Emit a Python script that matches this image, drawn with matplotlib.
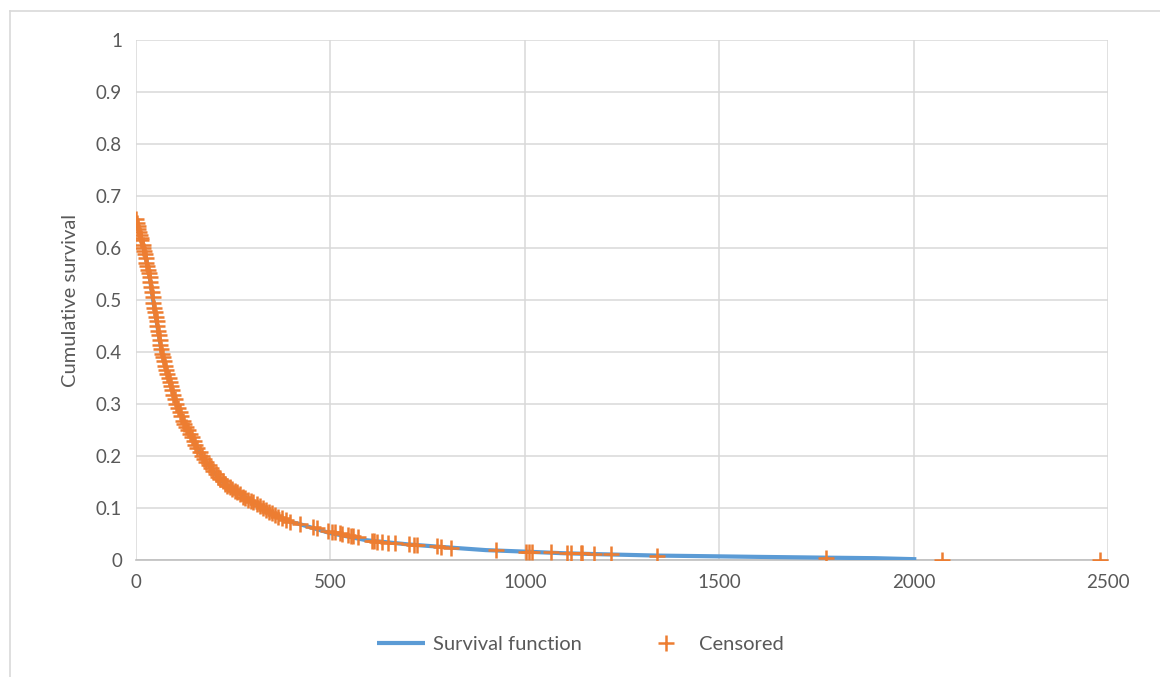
import matplotlib.pyplot as plt
from matplotlib.lines import Line2D

# Survival function
surv_t = [0, 5, 10, 16, 23, 34, 44, 55, 66, 84, 104, 133, 169, 215, 260, 301, 350, 395,
          421, 498, 593, 700, 806, 900, 1004, 1100, 1200, 1340, 1448, 1600, 1774, 1900, 2007]
surv_s = [0.655, 0.64, 0.625, 0.61, 0.59, 0.55, 0.5, 0.45, 0.4, 0.35, 0.3, 0.25, 0.2, 0.155,
          0.13, 0.112, 0.09, 0.074, 0.069, 0.052, 0.038, 0.03, 0.024, 0.019, 0.016, 0.013,
          0.011, 0.0085, 0.0075, 0.006, 0.0045, 0.0035, 0.0015]

# Censored observations
cens_t = [0, 2, 4, 6, 8, 10, 12, 14, 17, 19, 21, 23, 25, 27, 29, 31, 33, 35, 37, 39, 41, 43,
          45, 47, 49, 51, 53, 55, 57, 59, 61, 63, 65, 67, 69, 72, 75, 78, 81, 84, 87, 90, 93,
          96, 100, 104, 108, 112, 116, 120, 124, 128, 133, 138, 143, 148, 153, 158, 164, 169,
          175, 181, 187, 193, 199, 205, 211, 217, 223, 229, 235, 241, 247, 254, 260, 267, 274,
          281, 288, 295, 302, 310, 318, 326, 334, 342, 350, 358, 366, 375, 385, 395,
          421, 454, 465, 493, 503, 511, 524, 531, 544, 554, 557, 570, 608, 613, 621, 634, 647,
          665, 703, 716, 724, 775, 785, 811, 927, 1004, 1011, 1019, 1068, 1109, 1119, 1145,
          1147, 1178, 1222, 1340, 1774, 2074, 2480]
cens_s = [0.655, 0.648, 0.642, 0.636, 0.63, 0.625, 0.62, 0.615, 0.605, 0.6, 0.595, 0.588,
          0.58, 0.572, 0.565, 0.558, 0.552, 0.545, 0.535, 0.525, 0.515, 0.505, 0.495, 0.485,
          0.477, 0.468, 0.46, 0.45, 0.44, 0.432, 0.423, 0.414, 0.405, 0.396, 0.39, 0.382,
          0.374, 0.366, 0.358, 0.35, 0.342, 0.334, 0.326, 0.318, 0.31, 0.3, 0.292, 0.284,
          0.276, 0.268, 0.262, 0.256, 0.25, 0.243, 0.236, 0.229, 0.222, 0.215, 0.207, 0.2,
          0.194, 0.188, 0.182, 0.176, 0.171, 0.165, 0.16, 0.155, 0.151, 0.147, 0.143, 0.14,
          0.137, 0.133, 0.13, 0.126, 0.122, 0.119, 0.116, 0.114, 0.111, 0.108, 0.104, 0.1,
          0.097, 0.093, 0.09, 0.087, 0.083, 0.08, 0.077, 0.074,
          0.069, 0.063, 0.061, 0.056, 0.054, 0.053, 0.051, 0.05, 0.048, 0.047, 0.046, 0.044,
          0.037, 0.036, 0.035, 0.034, 0.033, 0.032, 0.03, 0.029, 0.029, 0.026, 0.025, 0.024,
          0.019, 0.016, 0.016, 0.016, 0.015, 0.014, 0.014, 0.013, 0.013, 0.012, 0.011,
          0.0085, 0.0045, 0.0, 0.0]

x_ticks = [0, 500, 1000, 1500, 2000, 2500]
y_ticks = [0, 0.1, 0.2, 0.3, 0.4, 0.5, 0.6, 0.7, 0.8, 0.9, 1]
y_labels = ["0", "0.1", "0.2", "0.3", "0.4", "0.5", "0.6", "0.7", "0.8", "0.9", "1"]

blue = "#5B9BD5"
orange = "#ED7D31"
text_col = "#595959"
grid_col = "#D9D9D9"

plt.rcParams["font.family"] = ["Lato", "DejaVu Sans"]

fig = plt.figure(figsize=(11.6, 6.77), dpi=100)
ax = fig.add_axes([136 / 1160, 117 / 677, 972 / 1160, 520 / 677])

# chart border
fig.add_artist(Line2D([10 / 1160, 10 / 1160], [0, 1 - 11 / 677], color=grid_col, lw=1.2,
                      transform=fig.transFigure))
fig.add_artist(Line2D([10 / 1160, 1], [1 - 11 / 677, 1 - 11 / 677], color=grid_col, lw=1.2,
                      transform=fig.transFigure))

ax.plot(surv_t, surv_s, color=blue, lw=3.0, solid_capstyle="butt", zorder=3,
        label="Survival function")
ax.plot(cens_t, cens_s, linestyle="none", marker="+", markersize=11, markeredgewidth=1.8,
        color=orange, zorder=4, label="Censored")

ax.set_xlim(0, 2500)
ax.set_ylim(0, 1)
ax.set_xticks(x_ticks)
ax.set_yticks(y_ticks)
ax.set_yticklabels(y_labels)
ax.tick_params(length=0, labelsize=13.5, colors=text_col, pad=10)
ax.grid(True, color=grid_col, lw=1.1)
ax.set_axisbelow(True)
for side in ["top", "right", "left"]:
    ax.spines[side].set_visible(False)
ax.spines["bottom"].set_color("#BFBFBF")
ax.spines["bottom"].set_linewidth(1.2)

ax.set_ylabel("Cumulative survival", fontsize=14.5, color=text_col, labelpad=12)

ax.legend(loc="center", bbox_to_anchor=(0.5, 1 - 644 / 677), bbox_transform=fig.transFigure,
          ncol=2, frameon=False, fontsize=14.5, labelcolor=text_col, columnspacing=3.0,
          handlelength=2.4, handletextpad=0.4)

plt.savefig("out.png", dpi=100)
